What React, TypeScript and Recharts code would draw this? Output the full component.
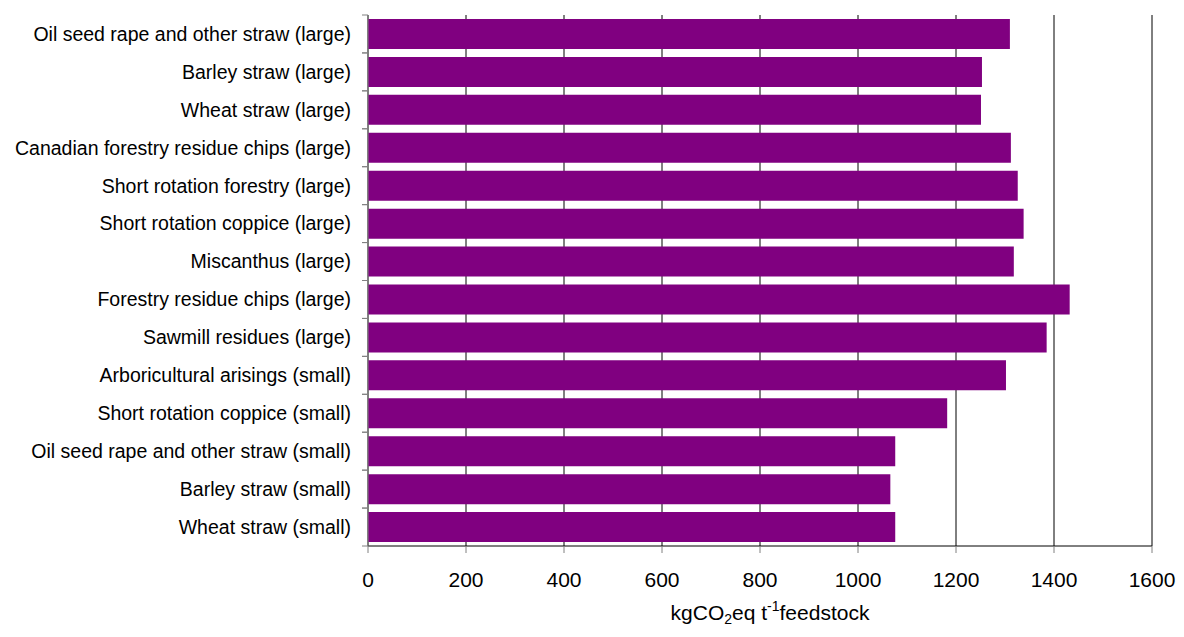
import { BarChart, Bar, XAxis, YAxis, CartesianGrid, Label } from "recharts";

const feedstocks = [
  "Oil seed rape and other straw (large)",
  "Barley straw (large)",
  "Wheat straw (large)",
  "Canadian forestry residue chips (large)",
  "Short rotation forestry (large)",
  "Short rotation coppice (large)",
  "Miscanthus (large)",
  "Forestry residue chips (large)",
  "Sawmill residues (large)",
  "Arboricultural arisings (small)",
  "Short rotation coppice (small)",
  "Oil seed rape and other straw (small)",
  "Barley straw (small)",
  "Wheat straw (small)",
];

const emissions = [1310, 1253, 1251, 1312, 1326, 1338, 1318, 1432, 1385, 1302, 1182, 1076, 1066, 1076];

const xTicks = [0, 200, 400, 600, 800, 1000, 1200, 1400, 1600];

const data = feedstocks.map((name, i) => ({ name, value: emissions[i] }));

const FONT = '"Liberation Sans", Arial, sans-serif';
const PLOT_H = 531;
const BAND = PLOT_H / feedstocks.length;

const CategoryTick = (props: any) => {
  const { x, y, payload } = props;
  return (
    <g>
      <line x1={x + 11} x2={x + 17} y1={y - BAND / 2} y2={y - BAND / 2} stroke="#808080" />
      <line x1={x + 11} x2={x + 17} y1={y + BAND / 2} y2={y + BAND / 2} stroke="#808080" />
      <text x={x} y={y} dy="0.35em" textAnchor="end" fontSize={19.5} fontFamily={FONT} fill="#000">
        {payload.value}
      </text>
    </g>
  );
};

const AxisTitle = (props: any) => {
  const vb = props.viewBox;
  return (
    <text
      x={vb.x + vb.width / 2 + 10}
      y={vb.y + 74}
      textAnchor="middle"
      fontSize={21}
      fontFamily={FONT}
      fill="#000"
    >
      kgCO
      <tspan fontSize={14} dy={4}>2</tspan>
      <tspan dy={-4}>eq t</tspan>
      <tspan fontSize={14} dy={-9}>-1</tspan>
      <tspan dy={9}>feedstock</tspan>
    </text>
  );
};

const App = () => {
  return (
    <BarChart
      width={1168}
      height={621}
      data={data}
      layout="vertical"
      margin={{ top: 7, right: 24, left: 0, bottom: 0 }}
      barCategoryGap="10.5%"
    >
      <CartesianGrid horizontal={false} stroke="#000" />
      <XAxis
        type="number"
        domain={[0, 1600]}
        ticks={xTicks}
        height={83}
        tickSize={7}
        tickMargin={19}
        axisLine={{ stroke: "#000" }}
        tickLine={{ stroke: "#808080" }}
        tick={{ fontSize: 21, fontFamily: FONT, fill: "#000" }}
      >
        <Label content={AxisTitle} />
      </XAxis>
      <XAxis
        xAxisId="top"
        orientation="top"
        type="number"
        domain={[0, 1600]}
        height={0}
        tick={false}
        tickLine={false}
        axisLine={{ stroke: "#808080" }}
      />
      <YAxis
        type="category"
        dataKey="name"
        width={360}
        tickSize={0}
        tickMargin={17}
        axisLine={{ stroke: "#808080" }}
        tickLine={false}
        tick={<CategoryTick />}
        interval={0}
      />
      <Bar dataKey="value" fill="#800080" isAnimationActive={false} />
    </BarChart>
  );
};

export default App;
